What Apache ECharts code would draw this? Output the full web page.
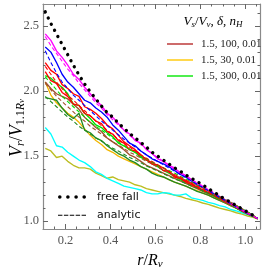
<!DOCTYPE html>
<html><head><meta charset="utf-8">
<script src="https://cdn.jsdelivr.net/npm/echarts@6/dist/echarts.min.js"></script>
<style>html,body{margin:0;padding:0;background:#fff}#c{width:275px;height:273px}</style>
</head><body><div id="c"></div>
<script>
// radius grid r / R_v
const r = [0.110,0.135,0.160,0.185,0.210,0.235,0.260,0.285,0.310,0.335,0.360,0.385,0.410,0.435,0.460,0.485,0.510,0.535,0.560,0.585,0.610,0.635,0.660,0.685,0.710,0.735,0.760,0.785,0.810,0.835,0.860,0.885,0.910,0.935,0.960,0.985,1.010,1.035,1.055];

const freeFall = [2.61,2.52,2.44,2.36,2.28,2.20,2.125,2.055,1.995,1.94,1.885,1.835,1.80,1.755,1.715,1.675,1.64,1.605,1.57,1.53,1.50,1.47,1.44,1.41,1.385,1.355,1.33,1.305,1.28,1.25,1.225,1.195,1.17,1.145,1.12,1.095,1.07,1.045,1.02];

const magenta = [2.44,2.39,2.31,2.26,2.20,2.13,2.09,2.03,1.98,1.93,1.89,1.83,1.80,1.75,1.70,1.67,1.62,1.60,1.55,1.52,1.48,1.46,1.43,1.41,1.37,1.35,1.32,1.29,1.27,1.24,1.21,1.19,1.16,1.135,1.11,1.085,1.06,1.04,1.02];
const magentaAn = [2.42,2.35,2.29,2.23,2.17,2.12,2.06,2.01,1.96,1.91,1.87,1.82,1.78,1.74,1.70,1.66,1.625,1.59,1.555,1.52,1.49,1.46,1.43,1.40,1.375,1.35,1.32,1.295,1.27,1.245,1.22,1.195,1.17,1.145,1.115,1.09,1.065,1.04,1.02];
const blue = [2.34,2.30,2.22,2.13,2.07,2.03,1.98,1.93,1.91,1.87,1.84,1.80,1.74,1.70,1.65,1.60,1.58,1.54,1.51,1.48,1.46,1.44,1.42,1.39,1.36,1.34,1.31,1.28,1.26,1.235,1.21,1.185,1.16,1.135,1.11,1.085,1.06,1.04,1.02];
const blueAn = [2.31,2.22,2.14,2.07,2.02,1.97,1.93,1.89,1.85,1.81,1.77,1.735,1.70,1.665,1.63,1.60,1.57,1.54,1.51,1.485,1.46,1.435,1.41,1.385,1.36,1.335,1.31,1.285,1.26,1.235,1.21,1.185,1.16,1.135,1.11,1.085,1.06,1.04,1.02];
const red1 = [2.22,2.16,2.13,2.05,2.02,1.98,1.96,1.88,1.86,1.83,1.79,1.74,1.71,1.66,1.61,1.58,1.55,1.51,1.47,1.45,1.43,1.41,1.38,1.35,1.33,1.31,1.29,1.26,1.24,1.22,1.20,1.175,1.15,1.13,1.105,1.08,1.06,1.04,1.02];
const red2 = [2.15,2.08,2.06,1.99,1.96,1.90,1.89,1.83,1.81,1.77,1.75,1.69,1.67,1.62,1.60,1.55,1.54,1.50,1.48,1.44,1.43,1.39,1.38,1.34,1.33,1.30,1.28,1.26,1.24,1.22,1.20,1.175,1.155,1.13,1.11,1.085,1.06,1.04,1.02];
const redAn = [2.19,2.13,2.07,2.02,1.97,1.93,1.89,1.85,1.81,1.77,1.735,1.70,1.665,1.63,1.60,1.57,1.54,1.51,1.485,1.46,1.435,1.41,1.385,1.36,1.34,1.315,1.295,1.27,1.25,1.23,1.205,1.185,1.16,1.14,1.115,1.09,1.065,1.04,1.02];
const green = [2.12,2.10,2.06,2.03,1.98,1.90,1.89,1.83,1.79,1.74,1.72,1.68,1.65,1.60,1.58,1.55,1.53,1.49,1.47,1.44,1.42,1.39,1.37,1.345,1.32,1.30,1.28,1.26,1.235,1.215,1.195,1.17,1.15,1.125,1.10,1.08,1.06,1.04,1.02];
const greenAn = [2.11,2.06,2.01,1.96,1.92,1.88,1.84,1.80,1.76,1.73,1.70,1.67,1.64,1.61,1.58,1.555,1.53,1.50,1.48,1.455,1.43,1.41,1.39,1.37,1.345,1.325,1.305,1.28,1.26,1.24,1.215,1.19,1.17,1.145,1.12,1.095,1.07,1.045,1.02];
const brown = [2.07,2.02,1.98,1.96,1.94,1.90,1.86,1.80,1.76,1.72,1.69,1.64,1.61,1.58,1.55,1.51,1.49,1.46,1.43,1.41,1.39,1.37,1.35,1.33,1.31,1.29,1.27,1.25,1.23,1.21,1.19,1.165,1.145,1.12,1.10,1.08,1.06,1.04,1.02];
const brownAn = [2.06,2.01,1.96,1.92,1.88,1.84,1.80,1.77,1.73,1.70,1.67,1.64,1.61,1.585,1.56,1.53,1.51,1.485,1.46,1.44,1.415,1.395,1.375,1.355,1.335,1.315,1.295,1.275,1.255,1.235,1.21,1.19,1.165,1.145,1.12,1.095,1.07,1.045,1.02];
const gold = [2.07,1.97,1.91,1.87,1.83,1.80,1.76,1.71,1.66,1.62,1.59,1.55,1.53,1.50,1.48,1.46,1.44,1.42,1.40,1.38,1.36,1.34,1.32,1.30,1.285,1.27,1.25,1.235,1.215,1.20,1.18,1.16,1.14,1.12,1.10,1.075,1.055,1.035,1.02];
const darkGreen = [1.95,1.94,1.93,1.87,1.82,1.79,1.83,1.70,1.68,1.64,1.62,1.58,1.55,1.52,1.50,1.47,1.45,1.42,1.40,1.37,1.35,1.34,1.32,1.30,1.285,1.27,1.25,1.23,1.215,1.20,1.18,1.16,1.14,1.12,1.10,1.075,1.055,1.035,1.02];
const darkGreenAn = [1.96,1.92,1.88,1.84,1.80,1.77,1.73,1.70,1.67,1.64,1.615,1.59,1.56,1.54,1.515,1.49,1.47,1.45,1.425,1.405,1.385,1.365,1.345,1.325,1.31,1.29,1.27,1.255,1.235,1.215,1.20,1.18,1.16,1.14,1.12,1.095,1.07,1.045,1.02];
const cyan = [1.72,1.67,1.58,1.57,1.53,1.50,1.47,1.45,1.42,1.38,1.36,1.33,1.31,1.29,1.27,1.26,1.25,1.24,1.22,1.21,1.21,1.22,1.215,1.20,1.20,1.21,1.18,1.17,1.16,1.145,1.135,1.12,1.11,1.09,1.08,1.065,1.05,1.035,1.02];
const olive = [1.56,1.54,1.49,1.50,1.46,1.43,1.41,1.41,1.40,1.37,1.35,1.33,1.34,1.32,1.31,1.30,1.28,1.27,1.25,1.24,1.23,1.22,1.21,1.20,1.19,1.175,1.165,1.155,1.14,1.13,1.115,1.10,1.09,1.08,1.065,1.055,1.04,1.03,1.015];

const xMajor = [0.2,0.4,0.6,0.8,1.0];
const xMinor = [0.15,0.25,0.3,0.35,0.45,0.5,0.55,0.65,0.7,0.75,0.85,0.9,0.95,1.05];
const yMajor = [1.0,1.5,2.0,2.5];
const yMinor = [1.1,1.2,1.3,1.4,1.6,1.7,1.8,1.9,2.1,2.2,2.3,2.4,2.6];
const legendLabels = ['1.5, 100, 0.01','1.5, 30, 0.01','1.5, 300, 0.01'];
const legendColors = ['#cd6b6b','#ffd84d','#4fee4f'];

const SERIF = 'Liberation Serif';
const chart = echarts.init(document.getElementById('c'), null, {renderer:'canvas'});

function ax(kind, pos, major, minor, labels){
  const base = {type:'value', position:pos, gridIndex:0, splitLine:{show:false}};
  if (kind==='x'){ base.min=0.1; base.max=1.065; } else { base.min=0.94; base.max=2.67; }
  const a = Object.assign({}, base, {
    axisLine:{show:true, onZero:false, lineStyle:{color:'#8a8a8a', width:1.2}},
    axisTick:{show:true, inside:true, length:5, customValues:major, lineStyle:{color:'#666', width:1}},
    axisLabel: labels ? {show:true, customValues:major, formatter:v=>v.toFixed(1), fontFamily:SERIF, fontSize:12.5, color:'#555', margin: kind==='x'?5:4} : {show:false}
  });
  const b = Object.assign({}, base, {
    axisLine:{show:false}, axisLabel:{show:false},
    axisTick:{show:true, inside:true, length:2.5, customValues:minor, lineStyle:{color:'#666', width:1}}
  });
  return [a,b];
}

function line(name, vals, color, dashed){
  return {type:'line', name, xAxisIndex:0, yAxisIndex:0, data:r.map((x,i)=>[x, vals[i]]),
    showSymbol:false, symbol:'none', silent:true, animation:false,
    lineStyle:{color, width: dashed?1.1:1.35, type: dashed?[4,2.5]:'solid'},
    itemStyle:{color}, emphasis:{disabled:true}};
}

const dotsIcon = 'path://M0,1.8a1.8,1.8 0 1,0 3.6,0a1.8,1.8 0 1,0 -3.6,0M8.1,1.8a1.8,1.8 0 1,0 3.6,0a1.8,1.8 0 1,0 -3.6,0M16.3,1.8a1.8,1.8 0 1,0 3.6,0a1.8,1.8 0 1,0 -3.6,0M24.4,1.8a1.8,1.8 0 1,0 3.6,0a1.8,1.8 0 1,0 -3.6,0';
const dashIcon = 'path://M0,0h0.01v0.01h-0.01zM27.99,3.59h0.01v0.01h-0.01zM0,1.25h4.4v1.1h-4.4zM5.9,1.25h4.4v1.1h-4.4zM11.8,1.25h4.4v1.1h-4.4zM17.7,1.25h4.4v1.1h-4.4zM23.6,1.25h4.4v1.1h-4.4z';

const series = [
  line('c_olive', olive, '#bcbd22'),
  line('c_cyan', cyan, '#00ffff'),
  line('c_gold', gold, '#f2b600'),
  line('c_dg', darkGreen, '#228b22'),
  line('c_brown', brown, '#a0522d'),
  line('c_green', green, '#00e000'),
  line('c_red2', red2, '#ff0000'),
  line('c_red1', red1, '#ff0000'),
  line('c_blue', blue, '#0000ff'),
  line('c_mag', magenta, '#ff00ff'),
  line('a_dg', darkGreenAn, '#228b22', true),
  line('a_brown', brownAn, '#a0522d', true),
  line('a_green', greenAn, '#00e000', true),
  line('a_red', redAn, '#ff0000', true),
  line('a_blue', blueAn, '#0000ff', true),
  line('a_mag', magentaAn, '#ff00ff', true),
  {type:'line', name:'free fall', data:r.map((x,i)=>[x, freeFall[i]]), showSymbol:false, symbol:'none', silent:true,
   lineStyle:{color:'#000', width:3.3, type:[0.1,6.8], cap:'round'}, itemStyle:{color:'#000'}, z:5},
  {type:'line', name:'analytic', data:[], itemStyle:{color:'#000'}, lineStyle:{color:'#000'}},
  ...legendLabels.map((n,i)=>({type:'line', name:n, data:[], itemStyle:{color:legendColors[i]}, lineStyle:{color:legendColors[i]}}))
];

const xs = [...ax('x','bottom',xMajor,xMinor,true), ...ax('x','top',xMajor,xMinor,false)];
const ys = [...ax('y','left',yMajor,yMinor,true), ...ax('y','right',yMajor,yMinor,false)];

const richMain = (fs, lh) => ({
  i:{fontFamily:SERIF, fontStyle:'italic', fontSize:fs, lineHeight:lh, color:'#111'},
  n:{fontFamily:SERIF, fontSize:fs, lineHeight:lh, color:'#111'},
  s:{fontFamily:SERIF, fontStyle:'italic', fontSize:Math.round(fs*0.68), verticalAlign:'bottom', color:'#111'},
  su:{fontFamily:SERIF, fontSize:Math.round(fs*0.68), verticalAlign:'bottom', color:'#111'},
  ss:{fontFamily:SERIF, fontStyle:'italic', fontSize:Math.round(fs*0.5), verticalAlign:'bottom', color:'#111'}
});

chart.setOption({
  animation:false,
  grid:{left:43, top:4, right:15, bottom:44, containLabel:false},
  xAxis: xs,
  yAxis: ys,
  series,
  legend:[
    {data:legendLabels.map(n=>({name:n, icon:'rect'})), orient:'vertical', left:162, top:32,
     itemWidth:26, itemHeight:2, itemGap:2, selectedMode:false,
     textStyle:{fontFamily:SERIF, fontSize:11, color:'#222', lineHeight:14, padding:[0,0,0,3]}},
    {data:[{name:'free fall', icon:dotsIcon},{name:'analytic', icon:dashIcon}], orient:'vertical', left:53, top:185,
     itemWidth:28, itemHeight:3.6, itemGap:4.3, selectedMode:false, symbolKeepAspect:false,
     textStyle:{fontFamily:'DejaVu Sans', fontSize:11, color:'#111', lineHeight:14, padding:[0,0,0,6]}}
  ],
  graphic:[
    {type:'text', x:17, y:128, rotation:Math.PI/2, silent:true,
     style:{text:'{i|V}{s|r}{n|/}{i|V}{su|1.1}{s|R}{ss|v}', rich:richMain(18,19), align:'center', verticalAlign:'middle'}},
    {type:'text', x:150, y:261, silent:true,
     style:{text:'{i|r}{n|/}{i|R}{s|v}', rich:richMain(16,18), align:'center', verticalAlign:'middle'}},
    {type:'text', x:213, y:22, silent:true,
     style:{text:'{i|V}{s|s}{n|/}{i|V}{s|v}{n|, }{i|δ}{n|, }{i|n}{s|H}', rich:richMain(13,15), align:'center', verticalAlign:'middle'}}
  ]
});
</script></body></html>
